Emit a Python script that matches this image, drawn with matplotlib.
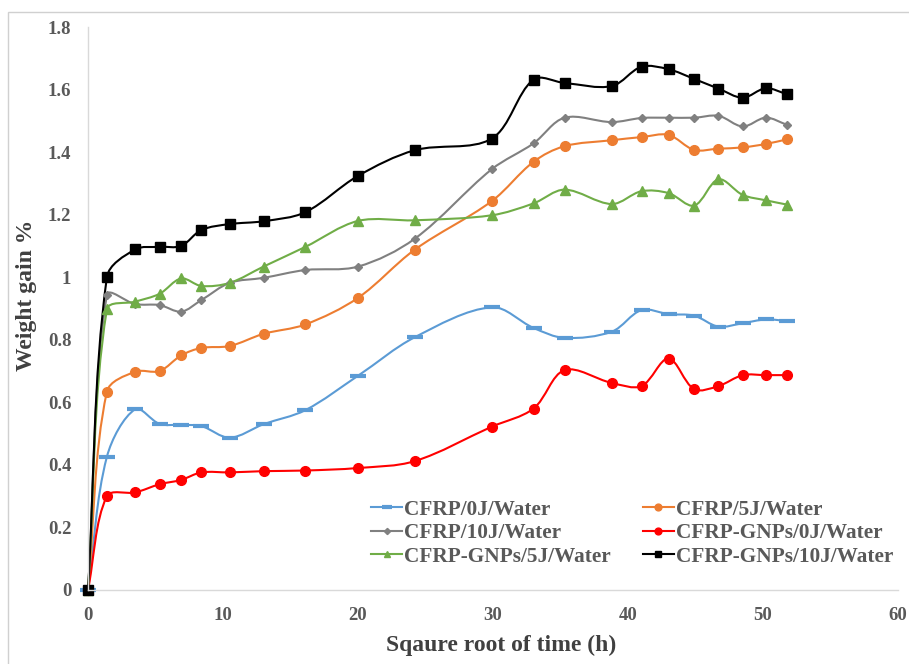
import numpy as np
import matplotlib
matplotlib.use("Agg")
import matplotlib.pyplot as plt
from matplotlib.path import Path
from matplotlib.patches import PathPatch, Rectangle
from matplotlib.lines import Line2D
from matplotlib.ticker import FuncFormatter

# sqrt of immersion time for each weighing
sqrt_time = [0, 1.4, 3.5, 5.3, 6.9, 8.4, 10.5, 13.0, 16.1, 20.0, 24.2,
             29.9, 33.0, 35.3, 38.8, 41.0, 43.0, 44.9, 46.7, 48.5, 50.2, 51.8]

cfrp_0j = [0, 0.426, 0.578, 0.531, 0.528, 0.524, 0.487, 0.530, 0.575, 0.685, 0.808,
           0.904, 0.838, 0.806, 0.826, 0.895, 0.882, 0.877, 0.842, 0.853, 0.865, 0.860]
cfrp_5j = [0, 0.634, 0.698, 0.700, 0.750, 0.774, 0.780, 0.819, 0.849, 0.934, 1.088,
           1.243, 1.369, 1.419, 1.438, 1.448, 1.455, 1.407, 1.411, 1.415, 1.426, 1.441]
cfrp_10j = [0, 0.943, 0.914, 0.911, 0.890, 0.927, 0.982, 0.998, 1.023, 1.034, 1.123,
            1.345, 1.428, 1.510, 1.496, 1.509, 1.510, 1.510, 1.516, 1.482, 1.510, 1.487]
gnp_0j = [0, 0.300, 0.312, 0.338, 0.352, 0.376, 0.376, 0.380, 0.382, 0.390, 0.412,
          0.522, 0.580, 0.703, 0.662, 0.652, 0.740, 0.642, 0.652, 0.687, 0.687, 0.687]
gnp_5j = [0, 0.897, 0.922, 0.947, 0.996, 0.972, 0.982, 1.034, 1.097, 1.180, 1.182,
          1.198, 1.236, 1.280, 1.234, 1.275, 1.269, 1.229, 1.313, 1.263, 1.246, 1.232]
gnp_10j = [0, 1.000, 1.089, 1.097, 1.100, 1.151, 1.170, 1.179, 1.208, 1.324, 1.406,
           1.443, 1.632, 1.621, 1.611, 1.673, 1.665, 1.634, 1.603, 1.574, 1.604, 1.585]

names = ["CFRP/0J/Water", "CFRP/5J/Water", "CFRP/10J/Water",
         "CFRP-GNPs/0J/Water", "CFRP-GNPs/5J/Water", "CFRP-GNPs/10J/Water"]
series = [cfrp_0j, cfrp_5j, cfrp_10j, gnp_0j, gnp_5j, gnp_10j]
colors = ["#5B9BD5", "#ED7D31", "#808080", "#FF0000", "#70AD47", "#000000"]
markers = ["_", "o", "D", "o", "^", "s"]
msizes = [11, 7, 4.5, 7, 7, 7]

X_RANGE, Y_RANGE = 60.0, 1.8
AX_W, AX_H = 810.0, 563.0


def smooth_path(x, y):
    # bezier through every point, tangents weighted by neighbouring chord
    # lengths (measured on screen) so short segments don't overshoot
    pts = np.column_stack([x, y]).astype(float)
    scale = np.array([AX_W / X_RANGE, AX_H / Y_RANGE])
    scr = pts * scale
    n = len(pts)
    verts = [pts[0]]
    codes = [Path.MOVETO]
    for i in range(n - 1):
        i0, i1, i2, i3 = max(i - 1, 0), i, i + 1, min(i + 2, n - 1)
        d01 = np.hypot(*(scr[i1] - scr[i0]))
        d12 = np.hypot(*(scr[i2] - scr[i1]))
        d23 = np.hypot(*(scr[i3] - scr[i2]))
        if i0 == i1:
            c1 = pts[i1] + (pts[i2] - pts[i1]) / 3.0
        else:
            c1 = pts[i1] + (pts[i2] - pts[i0]) * d12 / (d01 + d12) / 3.0
        if i3 == i2:
            c2 = pts[i2] - (pts[i2] - pts[i1]) / 3.0
        else:
            c2 = pts[i2] - (pts[i3] - pts[i1]) * d12 / (d12 + d23) / 3.0
        verts += [c1, c2, pts[i2]]
        codes += [Path.CURVE4] * 3
    return Path(verts, codes)


fig = plt.figure(figsize=(9.09, 6.64), dpi=100)
fig.patches.append(Rectangle((8 / 909, -0.05), 1.1, 0.05 + 1 - 12 / 664,
                             transform=fig.transFigure, fill=False,
                             edgecolor="#D0D0D0", lw=1.0))
ax = fig.add_axes([88 / 909, 1 - 590 / 664, AX_W / 909, AX_H / 664])

handles = []
for vals, name, c, m, ms in zip(series, names, colors, markers, msizes):
    ax.add_patch(PathPatch(smooth_path(sqrt_time, vals), fill=False,
                           edgecolor=c, lw=1.5, capstyle="round", clip_on=False))
    mew = 3 if m == "_" else 1
    ax.plot(sqrt_time, vals, linestyle="none", marker=m, color=c,
            markersize=ms, markeredgewidth=mew, clip_on=False)
    handles.append(Line2D([], [], color=c, lw=1.5, marker=m,
                          markersize=ms * 0.7, markeredgewidth=mew))

ax.set_xlim(0, X_RANGE)
ax.set_ylim(0, Y_RANGE)
ax.set_xticks(np.arange(0, 61, 10))
ax.set_yticks(np.arange(0, 1.81, 0.2))
ax.yaxis.set_major_formatter(FuncFormatter(lambda v, p: "{:g}".format(round(v, 1))))

for s in ["top", "right"]:
    ax.spines[s].set_visible(False)
for s in ["left", "bottom"]:
    ax.spines[s].set_color("#D9D9D9")
    ax.spines[s].set_linewidth(1.0)

ax.tick_params(length=0, labelsize=13.5, labelcolor="#595959")
ax.tick_params(axis="x", pad=12)
ax.tick_params(axis="y", pad=12)
for lab in ax.get_xticklabels() + ax.get_yticklabels():
    lab.set_fontfamily("Liberation Serif")
    lab.set_fontweight("bold")

ax.set_xlabel("Sqaure root of time (h)", fontsize=17, fontweight="bold",
              family="Liberation Serif", color="#404040")
ax.xaxis.set_label_coords(0.51, -0.08)
ax.set_ylabel("Weight gain %", fontsize=17, fontweight="bold",
              family="Liberation Serif", color="#404040")
ax.yaxis.set_label_coords(-0.063, 0.524)

# excel lays the legend out row by row
order = [0, 2, 4, 1, 3, 5]
leg = ax.legend([handles[i] for i in order], [names[i] for i in order],
                ncol=2, frameon=False, loc="lower right",
                bbox_to_anchor=(1.01, 0.019),
                prop={"family": "Liberation Serif", "weight": "bold", "size": 15.3},
                handlelength=1.45, handletextpad=0.1, columnspacing=1.5,
                labelspacing=0.16, borderaxespad=0.2)
for t in leg.get_texts():
    t.set_color("#595959")

fig.savefig("out.png", dpi=100)
